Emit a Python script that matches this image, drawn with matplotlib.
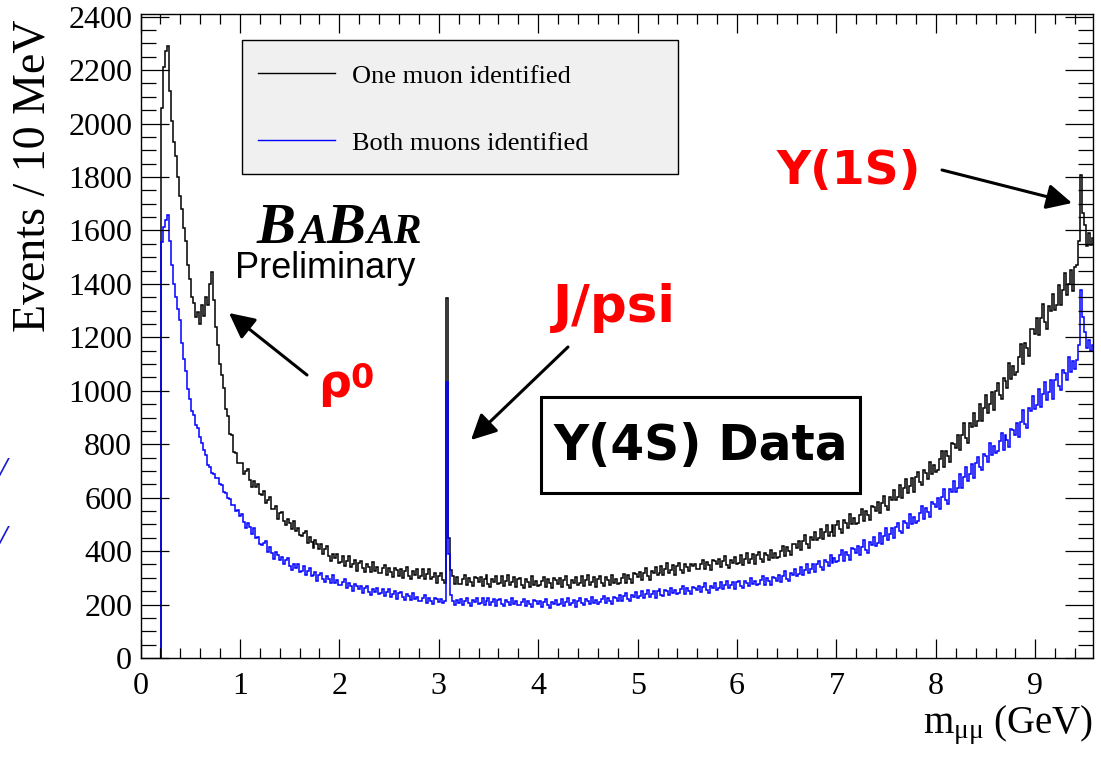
import numpy as np
import matplotlib.pyplot as plt
from matplotlib.patches import Rectangle
from matplotlib.lines import Line2D

plt.rcParams['font.family'] = ['Liberation Serif', 'DejaVu Serif']
plt.rcParams['mathtext.fontset'] = 'custom'
plt.rcParams['mathtext.rm'] = 'Liberation Serif'
plt.rcParams['mathtext.it'] = 'Liberation Serif:italic'

W, H = 1101, 757

# dimuon invariant mass, 20 MeV bins from 0.21 GeV, contents in events / 10 MeV
m_start = 0.21
bin_width = 0.02

one_muon = [
    2060, 2210, 2270, 2290, 2120, 2010, 1930, 1880, 1800, 1730,
    1680, 1610, 1560, 1470, 1420, 1350, 1330, 1275, 1295, 1250,
    1320, 1280, 1350, 1320, 1400, 1445, 1340, 1240, 1170, 1100,
    1060, 1010, 930, 905, 840, 836, 770, 768, 730, 728,
    729, 687, 701, 707, 665, 641, 663, 641, 653, 613,
    609, 626, 581, 592, 603, 556, 559, 568, 521, 544,
    546, 514, 496, 522, 506, 482, 514, 476, 486, 460,
    456, 468, 476, 432, 454, 434, 410, 440, 428, 408,
    426, 389, 408, 419, 382, 363, 390, 373, 390, 355,
    358, 382, 344, 362, 380, 340, 350, 366, 326, 356,
    362, 335, 322, 353, 341, 322, 358, 326, 340, 318,
    318, 335, 348, 309, 336, 321, 302, 336, 328, 308,
    334, 301, 325, 341, 308, 294, 326, 310, 334, 301,
    308, 332, 296, 316, 332, 294, 304, 318, 280, 306,
    318, 292, 280, 1347, 450, 330, 308, 276, 302, 278,
    278, 296, 310, 272, 300, 286, 268, 304, 298, 284,
    302, 270, 294, 310, 278, 264, 296, 284, 306, 276,
    280, 306, 270, 290, 310, 272, 284, 302, 264, 296,
    301, 275, 263, 295, 285, 267, 305, 273, 289, 269,
    272, 290, 304, 266, 294, 280, 262, 298, 292, 278,
    299, 267, 291, 307, 275, 261, 293, 281, 303, 273,
    281, 307, 271, 291, 311, 273, 285, 303, 265, 297,
    308, 282, 270, 302, 292, 274, 312, 280, 296, 276,
    281, 301, 316, 280, 310, 297, 281, 319, 314, 302,
    323, 293, 318, 336, 306, 293, 327, 317, 340, 312,
    319, 346, 312, 333, 354, 317, 330, 349, 312, 345,
    354, 329, 318, 351, 342, 327, 350, 343, 350, 332,
    334, 353, 368, 332, 361, 348, 331, 368, 363, 350,
    371, 340, 364, 381, 349, 336, 368, 357, 379, 350,
    356, 384, 349, 371, 392, 356, 369, 389, 352, 386,
    395, 370, 359, 393, 384, 367, 406, 376, 393, 374,
    377, 400, 418, 380, 414, 402, 386, 428, 425, 412,
    439, 404, 437, 459, 425, 412, 454, 443, 473, 441,
    450, 484, 444, 471, 498, 455, 473, 497, 455, 496,
    511, 482, 469, 515, 505, 485, 538, 500, 524, 502,
    506, 534, 556, 511, 551, 537, 517, 568, 564, 550,
    582, 542, 580, 608, 568, 553, 603, 591, 627, 590,
    603, 648, 599, 635, 670, 619, 642, 675, 623, 677,
    696, 660, 646, 703, 692, 669, 735, 690, 721, 695,
    702, 743, 776, 716, 774, 757, 732, 805, 802, 785,
    833, 779, 836, 878, 823, 805, 878, 864, 917, 867,
    888, 949, 886, 935, 984, 917, 950, 995, 928, 1001,
    1030, 983, 968, 1049, 1038, 1010, 1104, 1045, 1091, 1058,
    1071, 1128, 1176, 1099, 1180, 1160, 1131, 1232, 1231, 1212,
    1274, 1207, 1274, 1323, 1256, 1232, 1319, 1300, 1363, 1301,
    1321, 1394, 1320, 1379, 1439, 1358, 1399, 1453, 1374, 1462,
    1470, 1560, 1808, 1665, 1620, 1540, 1590, 1545, 1570,
]

both_muons = [
    1557, 1613, 1640, 1658, 1560, 1470, 1400, 1350, 1305, 1265,
    1180, 1118, 1075, 1006, 968, 925, 910, 872, 860, 826,
    806, 780, 758, 722, 716, 694, 690, 672, 674, 650,
    648, 622, 618, 600, 596, 574, 572, 550, 552, 530,
    540, 508, 487, 507, 489, 463, 488, 449, 454, 427,
    422, 431, 437, 396, 414, 394, 371, 397, 384, 365,
    379, 350, 365, 374, 344, 329, 350, 337, 350, 322,
    326, 344, 312, 325, 338, 305, 311, 323, 289, 312,
    317, 295, 283, 307, 297, 280, 309, 281, 292, 274,
    273, 285, 294, 262, 281, 268, 251, 277, 270, 257,
    270, 245, 261, 270, 247, 235, 257, 246, 261, 238,
    242, 259, 233, 246, 259, 230, 238, 249, 222, 243,
    248, 228, 218, 239, 231, 217, 242, 219, 228, 213,
    215, 226, 235, 207, 226, 214, 201, 225, 220, 209,
    222, 204, 214, 1033, 390, 236, 214, 200, 218, 204,
    221, 198, 215, 226, 204, 194, 217, 208, 224, 203,
    205, 223, 198, 212, 226, 199, 208, 220, 194, 216,
    221, 202, 194, 216, 209, 197, 223, 201, 212, 198,
    198, 210, 220, 193, 213, 203, 191, 216, 212, 202,
    215, 192, 209, 220, 198, 188, 211, 202, 218, 197,
    203, 221, 196, 210, 224, 197, 206, 218, 192, 214,
    224, 205, 197, 219, 213, 201, 227, 205, 216, 203,
    210, 222, 232, 205, 225, 215, 203, 228, 224, 214,
    236, 214, 232, 244, 222, 213, 237, 229, 246, 226,
    231, 250, 224, 241, 255, 230, 240, 252, 226, 250,
    257, 237, 231, 255, 249, 237, 263, 242, 255, 241,
    244, 257, 268, 240, 261, 251, 241, 266, 263, 254,
    270, 246, 266, 281, 255, 244, 270, 261, 280, 256,
    262, 284, 257, 273, 290, 262, 272, 286, 257, 283,
    290, 270, 262, 289, 282, 269, 300, 276, 289, 274,
    276, 292, 305, 275, 299, 290, 273, 303, 301, 290,
    310, 283, 307, 324, 297, 287, 318, 309, 332, 307,
    315, 340, 311, 331, 352, 319, 333, 351, 320, 351,
    363, 340, 331, 366, 359, 344, 385, 356, 375, 358,
    362, 385, 403, 364, 398, 385, 368, 410, 407, 393,
    420, 385, 417, 440, 405, 392, 434, 423, 453, 421,
    431, 466, 428, 456, 485, 443, 463, 488, 448, 490,
    505, 477, 466, 513, 505, 485, 540, 503, 529, 507,
    513, 543, 568, 519, 563, 547, 527, 583, 578, 564,
    599, 558, 601, 632, 591, 577, 632, 621, 661, 622,
    637, 687, 636, 676, 715, 663, 689, 726, 672, 731,
    753, 716, 703, 765, 755, 733, 804, 758, 792, 766,
    773, 811, 842, 779, 835, 815, 788, 858, 853, 834,
    878, 826, 885, 929, 877, 860, 936, 924, 979, 931,
    946, 1005, 940, 987, 1034, 965, 996, 1039, 970, 1040,
    1061, 1018, 1004, 1077, 1067, 1040, 1126, 1071, 1113, 1082,
    1115, 1170, 1377, 1276, 1220, 1160, 1190, 1150, 1170,
]

series_labels = ['One muon identified', 'Both muons identified']
series_colors = ['black', '#0000ff']


def fx(px):
    return px / W


def fy(py):
    return 1 - py / H


edges = m_start + bin_width * np.arange(len(one_muon) + 1)

fig = plt.figure(figsize=(W / 100, H / 100), dpi=100)
ax = fig.add_axes([fx(140.5), fy(658), (1093 - 140.5) / W, 644 / H])

ax.stairs(one_muon, edges, baseline=0, color=series_colors[0], lw=1.1)
ax.stairs(both_muons, edges, baseline=0, color=series_colors[1], lw=1.1)

ax.set_xlim(0, 9.58)
ax.set_ylim(0, 2410)

# ROOT-style frame: ticks inside on all four sides
ax.set_xticks(np.arange(0, 10, 1))
ax.set_xticks(np.arange(0, 9.6, 0.2), minor=True)
ax.set_yticks(np.arange(0, 2401, 200))
ax.set_yticks(np.arange(0, 2401, 50), minor=True)
ax.tick_params(which='both', direction='in', top=True, right=True,
               width=0.9, labelsize=23)
ax.tick_params(axis='y', which='major', length=20, pad=6)
ax.tick_params(axis='y', which='minor', length=10.5)
ax.tick_params(axis='x', which='major', length=13.5, pad=10)
ax.tick_params(axis='x', which='minor', length=7.5)
for sp in ax.spines.values():
    sp.set_linewidth(1.0)

fig.text(fx(33), fy(19), 'Events / 10 MeV', rotation=90, fontsize=33,
         ha='center', va='top')
fig.text(fx(1093), fy(733), r'm$_{\mathrm{μμ}}$ (GeV)', fontsize=28,
         ha='right', va='baseline')

# legend box
fig.add_artist(Rectangle((fx(242), fy(174)), fx(678) - fx(242), fy(40) - fy(174),
                         transform=fig.transFigure, facecolor='#f0f0f0',
                         edgecolor='black', lw=1.0))
for py, lab, col in zip([73, 140], series_labels, series_colors):
    fig.add_artist(Line2D([fx(258), fx(335)], [fy(py), fy(py)], color=col,
                          lw=1.0, transform=fig.transFigure))
    fig.text(fx(352), fy(py + 4), lab, fontsize=19, ha='left', va='center')

# experiment logo
logo = dict(family='Liberation Serif', weight='bold', style='italic', va='baseline')
fig.text(fx(257), fy(243), 'B', fontsize=42, **logo)
fig.text(fx(299), fy(243), 'A', fontsize=30, **logo)
fig.text(fx(327), fy(243), 'B', fontsize=42, **logo)
fig.text(fx(366), fy(243), 'AR', fontsize=30, **logo)
fig.text(fx(235), fy(278), 'Preliminary', family='Liberation Sans',
         fontsize=26, va='baseline')

# resonance labels and arrows
red = dict(family='DejaVu Sans', weight='bold', color='#ff0000', va='baseline')
fig.text(fx(318), fy(397), 'ρ', fontsize=33, **red)
fig.text(fx(350), fy(388), '0', fontsize=24, **red)
fig.text(fx(553), fy(322), 'J/psi', fontsize=37, **red)
fig.text(fx(776), fy(184), 'Y(1S)', fontsize=34, **red)

arrow = dict(arrowstyle='-|>,head_length=0.7,head_width=0.35', lw=2.2,
             color='black', mutation_scale=22, shrinkA=0, shrinkB=0)
for tail, tip in [((307, 375), (229, 313)),
                  ((568, 347), (471, 440)),
                  ((942, 170), (1072, 203))]:
    fig.add_artist(plt.Annotation('', xy=(fx(tip[0]), fy(tip[1])),
                                  xytext=(fx(tail[0]), fy(tail[1])),
                                  xycoords='figure fraction',
                                  textcoords='figure fraction',
                                  arrowprops=arrow))

fig.add_artist(Rectangle((fx(541), fy(493)), fx(860) - fx(541), fy(397) - fy(493),
                         transform=fig.transFigure, facecolor='white',
                         edgecolor='black', lw=2.2))
fig.text(fx(700.5), fy(446), 'Y(4S) Data', family='DejaVu Sans', weight='bold',
         fontsize=35, ha='center', va='center')

# stray marks at the left edge
for py in [470, 538]:
    fig.text(fx(4), fy(py), '/', color='#1a1ad0', fontsize=20, weight='bold',
             style='italic', ha='center', va='center')

fig.savefig('out.png', dpi=100)
